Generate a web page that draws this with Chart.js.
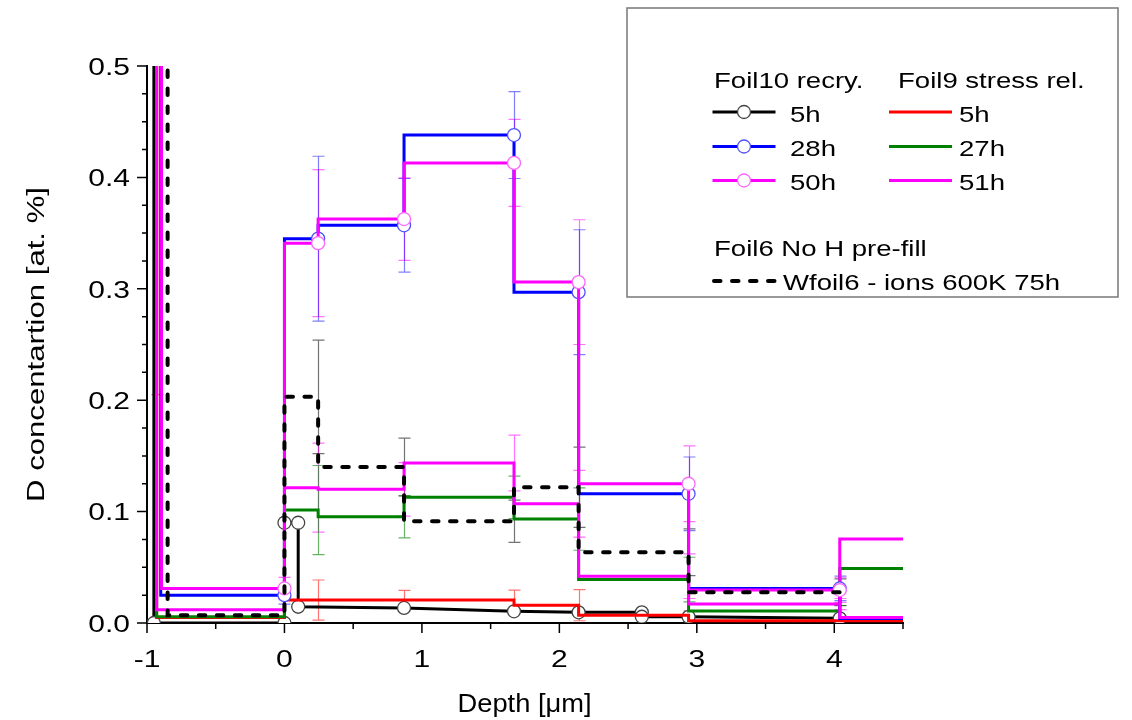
<!DOCTYPE html>
<html>
<head>
<meta charset="utf-8">
<title>D concentration depth profiles</title>
<script src="https://cdn.jsdelivr.net/npm/chart.js@4/dist/chart.umd.min.js"></script>
<style>
  html, body { margin: 0; padding: 0; background: #fff; }
  canvas { display: block; }
</style>
</head>
<body>
<canvas id="profile" width="1132" height="720"></canvas>
<script>
// ---- depth profiles: depth [µm], D concentration [at.%], ± uncertainty ----
// Foil10, recrystallised (NRA points)
const f10_5h_depth  = [-0.95, -0.95, 0, 0, 0.1, 0.1, 0.87, 1.67, 2.14, 2.6, 2.6, 2.94, 4.04];
const f10_5h_conc   = [0.9, 0.0, 0.0, 0.09, 0.09, 0.0146, 0.0135, 0.0105, 0.0096, 0.0096, 0.0056, 0.0055, 0.0042];

const f10_28h_depth = [-0.9, 0, 0.245, 0.87, 1.67, 2.14, 2.94, 4.04, 4.6];
const f10_28h_conc  = [0.9, 0.025, 0.345, 0.357, 0.438, 0.297, 0.116, 0.031, 0.004];
const f10_28h_err   = [null, 0.008, 0.074, 0.042, 0.039, 0.056, 0.033, 0.011, null];

const f10_50h_depth = [-0.894, 0, 0.245, 0.87, 1.67, 2.14, 2.94, 4.04, 4.6];
const f10_50h_conc  = [0.9, 0.031, 0.341, 0.3626, 0.413, 0.306, 0.125, 0.0296, 0.005];
const f10_50h_err   = [null, 0.01, 0.066, 0.037, 0.039, 0.056, 0.034, 0.011, null];

// Foil9, stress relieved
const f9_5h_depth   = [-0.93, 0, 0.245, 0.87, 1.67, 2.14, 2.94, 4.04, 4.6];
const f9_5h_conc    = [0.6, 0.005, 0.0206, 0.0206, 0.0206, 0.016, 0.007, 0.002, 0.002];
const f9_5h_err     = [0.395, null, 0.018, 0.0087, 0.009, 0.014, 0.004, null, null];

const f9_27h_depth  = [-0.93, 0, 0.245, 0.87, 1.67, 2.14, 2.94, 4.04, 4.6];
const f9_27h_conc   = [0.9, 0.0055, 0.1014, 0.0954, 0.1128, 0.0933, 0.039, 0.0107, 0.049];
const f9_27h_err    = [null, null, 0.04, 0.019, 0.019, 0.028, 0.02, 0.005, null];

const f9_51h_depth  = [-0.93, 0, 0.245, 0.87, 1.67, 2.14, 2.94, 4.04, 4.6];
const f9_51h_conc   = [0.9, 0.012, 0.1215, 0.12, 0.1436, 0.107, 0.042, 0.017, 0.0755];
const f9_51h_err    = [null, null, 0.04, 0.024, 0.025, 0.03, 0.02, 0.005, null];

// Foil6, no H pre-fill, ions at 600 K
const w6_depth      = [-0.85, 0, 0.245, 0.87, 1.67, 2.14, 2.94, 4.04];
const w6_conc       = [0.9, 0.007, 0.203, 0.14, 0.0913, 0.1218, 0.0635, 0.0276];
const w6_err        = [null, null, 0.051, 0.026, 0.019, 0.036, 0.021, 0.012];

// ---- axes ----
const xMajorTicks = [-1, 0, 1, 2, 3, 4];
const xTickLabels = ['-1', '0', '1', '2', '3', '4'];
const xMinorTicks = [-0.5, 0.5, 1.5, 2.5, 3.5, 4.5];
const yMajorTicks = [0, 0.1, 0.2, 0.3, 0.4, 0.5];
const yTickLabels = ['0.0', '0.1', '0.2', '0.3', '0.4', '0.5'];
const yMinorTicks = [0.025, 0.05, 0.075, 0.125, 0.15, 0.175, 0.225, 0.25, 0.275,
                     0.325, 0.35, 0.375, 0.425, 0.45, 0.475];
const xTitle = 'Depth [\u03bcm]';
const yTitle = 'D concentartion [at. %]';
const legendHeads = ['Foil10 recry.', 'Foil9 stress rel.', 'Foil6 No H pre-fill'];

const FONT = '"Liberation Sans", Arial, Helvetica, sans-serif';
const pts = (xs, ys) => xs.map((x, i) => ({ x, y: ys[i] }));

const openCircle = (edge) => ({
  pointRadius: 6.5, pointHoverRadius: 6.5, pointBorderWidth: 1.3,
  pointBackgroundColor: '#ffffff', pointBorderColor: edge
});

// index 0 is painted last (on top)
const datasets = [
  { label: 'Wfoil6 - ions 600K 75h', data: pts(w6_depth, w6_conc), errors: w6_err,
    borderColor: '#000000', borderWidth: 4, borderDash: [6.5, 11.5], borderCapStyle: 'round',
    stepped: 'after', pointRadius: 0, errorColor: 'rgba(0,0,0,0.55)' },
  { label: '50h', data: pts(f10_50h_depth, f10_50h_conc), errors: f10_50h_err,
    borderColor: '#ff00ff', borderWidth: 3, stepped: 'after', errorColor: 'rgba(255,0,255,0.55)',
    ...openCircle('#ff66ff') },
  { label: '28h', data: pts(f10_28h_depth, f10_28h_conc), errors: f10_28h_err,
    borderColor: '#0000ff', borderWidth: 3, stepped: 'after', errorColor: 'rgba(0,0,255,0.5)',
    ...openCircle('#5050ff') },
  { label: '51h', data: pts(f9_51h_depth, f9_51h_conc), errors: f9_51h_err,
    borderColor: '#ff00ff', borderWidth: 3, stepped: 'after', pointRadius: 0,
    errorColor: 'rgba(255,0,255,0.55)' },
  { label: '27h', data: pts(f9_27h_depth, f9_27h_conc), errors: f9_27h_err,
    borderColor: '#008000', borderWidth: 3, stepped: 'after', pointRadius: 0,
    errorColor: 'rgba(0,128,0,0.6)' },
  { label: '5h', data: pts(f9_5h_depth, f9_5h_conc), errors: f9_5h_err,
    borderColor: '#ff0000', borderWidth: 3, stepped: 'after', pointRadius: 0,
    errorColor: 'rgba(255,0,0,0.55)' },
  { label: '5h', data: pts(f10_5h_depth, f10_5h_conc),
    borderColor: '#000000', borderWidth: 3, stepped: false, ...openCircle('#444444') }
];
datasets.forEach(d => { d.clip = 0; d.fill = false; d.tension = 0; });

// legend layout: dataset indices per column
const legendLeft  = [6, 2, 1];
const legendRight = [5, 4, 3];
const legendFoot  = 0;

// text drawn a little wider than the plain face
function wideText(ctx, str, x, y, size, align, sx, rot) {
  ctx.save();
  ctx.translate(x, y);
  if (rot) ctx.rotate(rot);
  ctx.font = `${size}px ${FONT}`;
  ctx.scale(sx, 1);
  ctx.textAlign = align;
  ctx.textBaseline = 'alphabetic';
  ctx.fillStyle = '#000';
  ctx.fillText(str, 0, 0);
  ctx.restore();
}
function fittedText(ctx, str, x, y, size, width, rot) {
  ctx.save();
  ctx.font = `${size}px ${FONT}`;
  const sx = width / ctx.measureText(str).width;
  ctx.restore();
  wideText(ctx, str, x, y, size, 'center', sx, rot);
}

const errorBars = {
  id: 'errorBars',
  beforeDatasetsDraw(chart) {
    const { ctx, chartArea: a, scales: { x, y } } = chart;
    ctx.save();
    ctx.beginPath();
    ctx.rect(a.left, a.top, a.right - a.left, a.bottom - a.top);
    ctx.clip();
    ctx.lineWidth = 1.2;
    chart.data.datasets.forEach(ds => {
      if (!ds.errors) return;
      ctx.strokeStyle = ds.errorColor;
      ds.data.forEach((p, i) => {
        const e = ds.errors[i];
        if (e == null) return;
        const px = Math.round(x.getPixelForValue(p.x)) + 0.5;
        const lo = y.getPixelForValue(p.y - e), hi = y.getPixelForValue(p.y + e);
        ctx.beginPath();
        ctx.moveTo(px, lo); ctx.lineTo(px, hi);
        ctx.moveTo(px - 6, lo); ctx.lineTo(px + 6, lo);
        ctx.moveTo(px - 6, hi); ctx.lineTo(px + 6, hi);
        ctx.stroke();
      });
    });
    ctx.restore();
  }
};

const axesAndLegend = {
  id: 'axesAndLegend',
  afterDraw(chart) {
    const { ctx, chartArea: a, scales: { x, y } } = chart;
    const ds = chart.data.datasets;
    ctx.save();
    ctx.strokeStyle = '#000';
    ctx.lineWidth = 1.5;
    ctx.beginPath();
    xMajorTicks.forEach(v => { const p = x.getPixelForValue(v); ctx.moveTo(p, a.bottom); ctx.lineTo(p, a.bottom + 10); });
    xMinorTicks.forEach(v => { const p = x.getPixelForValue(v); ctx.moveTo(p, a.bottom); ctx.lineTo(p, a.bottom + 6); });
    yMajorTicks.forEach(v => { const p = y.getPixelForValue(v); ctx.moveTo(a.left, p); ctx.lineTo(a.left - 10, p); });
    yMinorTicks.forEach(v => { const p = y.getPixelForValue(v); ctx.moveTo(a.left, p); ctx.lineTo(a.left - 5, p); });
    ctx.stroke();
    ctx.restore();

    const tickSize = 24.4, sx = 1.23;
    xMajorTicks.forEach((v, i) => wideText(ctx, xTickLabels[i], x.getPixelForValue(v), a.bottom + 43.5, tickSize, 'center', sx));
    yMajorTicks.forEach((v, i) => wideText(ctx, yTickLabels[i], a.left - 17, y.getPixelForValue(v) + 8.7, tickSize, 'right', sx));

    fittedText(ctx, xTitle, (a.left + a.right) / 2 - 0.5, 712, 25, 134, 0);
    fittedText(ctx, yTitle, 44, (a.top + a.bottom) / 2, 23, 315, -Math.PI / 2);

    // legend frame
    ctx.save();
    ctx.strokeStyle = '#808080';
    ctx.lineWidth = 1.6;
    ctx.strokeRect(627, 8, 491, 289);
    ctx.restore();

    const lf = 22.4;
    wideText(ctx, legendHeads[0], 714, 88, lf, 'left', sx);
    wideText(ctx, legendHeads[1], 898, 88, lf, 'left', sx);
    const rows = [112, 146.5, 180.5];
    const sample = (d, x1, x2, yy) => {
      ctx.save();
      ctx.strokeStyle = d.borderColor;
      ctx.lineWidth = d.borderWidth;
      ctx.lineCap = d.borderCapStyle || 'butt';
      ctx.setLineDash(d.borderDash || []);
      ctx.beginPath(); ctx.moveTo(x1, yy); ctx.lineTo(x2, yy); ctx.stroke();
      if (d.pointRadius > 0) {
        ctx.setLineDash([]);
        ctx.beginPath();
        ctx.arc((x1 + x2) / 2, yy, d.pointRadius, 0, Math.PI * 2);
        ctx.fillStyle = d.pointBackgroundColor; ctx.fill();
        ctx.lineWidth = d.pointBorderWidth; ctx.strokeStyle = d.pointBorderColor; ctx.stroke();
      }
      ctx.restore();
    };
    legendLeft.forEach((k, r) => {
      sample(ds[k], 712.5, 775.5, rows[r]);
      wideText(ctx, ds[k].label, 790, rows[r] + 9.5, lf, 'left', sx);
    });
    legendRight.forEach((k, r) => {
      sample(ds[k], 889, 952, rows[r]);
      wideText(ctx, ds[k].label, 959, rows[r] + 9.5, lf, 'left', sx);
    });
    wideText(ctx, legendHeads[2], 714, 256, lf, 'left', sx);
    sample(ds[legendFoot], 714, 775, 281);
    wideText(ctx, ds[legendFoot].label, 783, 290, lf, 'left', sx);
  }
};

new Chart(document.getElementById('profile'), {
  type: 'line',
  data: { datasets },
  options: {
    responsive: false,
    animation: false,
    devicePixelRatio: 1,
    layout: { padding: { left: 0, top: 66, right: 229, bottom: 0 } },
    plugins: { legend: { display: false }, tooltip: { enabled: false } },
    events: [],
    scales: {
      x: {
        type: 'linear', min: -1, max: 4.5,
        grid: { display: false },
        ticks: { display: false },
        border: { display: true, color: '#000', width: 2 },
        afterFit: s => { s.height = 97; }
      },
      y: {
        type: 'linear', min: 0, max: 0.5,
        grid: { display: false },
        ticks: { display: false },
        border: { display: true, color: '#000', width: 2 },
        afterFit: s => { s.width = 147; }
      }
    }
  },
  plugins: [errorBars, axesAndLegend]
});
</script>
</body>
</html>
